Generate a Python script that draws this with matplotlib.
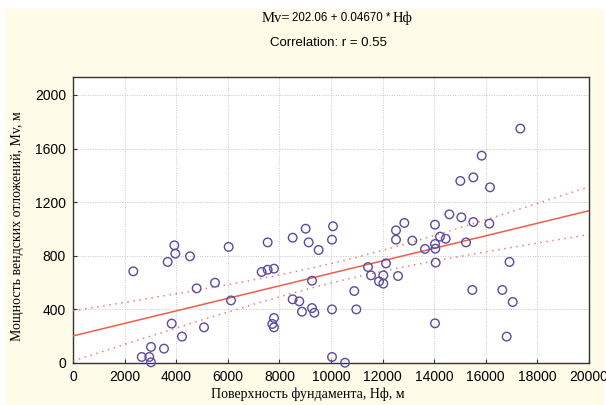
import numpy as np
import matplotlib
matplotlib.use("Agg")
import matplotlib.pyplot as plt
from matplotlib.patches import Rectangle

# Foundation surface depth, Hф (m)
hf = [2337, 2663, 2958, 3023, 3023, 3527, 3669, 3928, 3966, 3825,
      4225, 4535, 4793, 5504, 5078, 6034, 6124, 7312, 7545, 7790,
      7545, 7790, 7726, 7790, 8514, 9017, 9134, 9521, 8514, 8771,
      8876, 9264, 9264, 9354, 10078, 10039, 10039, 10039, 10543, 10903,
      10981, 11434, 11550, 11860, 12028, 12028, 12132, 12519, 12519, 12842,
      13152, 12597, 13643, 14031, 14031, 14044, 14057, 14031, 14225, 14445,
      17338, 15841, 15517, 15013, 16163, 14587, 15052, 15517, 16137, 15233,
      16919, 15478, 16640, 17043, 16808]
# Vendian deposits thickness, Mv (m)
mv = [684, 45, 45, 5, 120, 107, 754, 878, 816, 294,
      197, 796, 557, 599, 266, 866, 467, 679, 696, 704,
      900, 336, 291, 266, 935, 1002, 900, 843, 475, 460,
      383, 614, 410, 375, 1020, 920, 400, 45, 2, 537,
      400, 716, 654, 609, 654, 592, 743, 920, 990, 1045,
      913, 649, 851, 1032, 888, 853, 749, 296, 943, 927,
      1749, 1547, 1385, 1358, 1311, 1109, 1087, 1052, 1040, 900,
      754, 545, 545, 455, 197]

intercept = 202.06
slope = 0.04670
r_value = 0.55

x_ticks = list(range(0, 20001, 2000))
y_ticks = [0, 400, 800, 1200, 1600, 2000]

W, H = 606, 405
cream = "#fffbe9"
fig = plt.figure(figsize=(W / 100, H / 100), dpi=100)
fig.patch.set_facecolor("white")
fig.patches.append(Rectangle((5 / W, 0), 599 / W, 1 - 9 / H,
                             transform=fig.transFigure, facecolor=cream,
                             edgecolor="none", zorder=-10))

ax = fig.add_axes([73 / W, 1 - 363 / H, 516 / W, 286 / H])
ax.set_facecolor("white")

x = np.asarray(hf, dtype=float)
y = np.asarray(mv, dtype=float)

# regression line and 95% confidence band for the mean
xs = np.linspace(0, 20000, 200)
fit = intercept + slope * xs
n = len(x)
resid = y - (intercept + slope * x)
se = np.sqrt(np.sum(resid ** 2) / (n - 2))
sxx = np.sum((x - x.mean()) ** 2)
tval = 1.993
half = tval * se * np.sqrt(1 / n + (xs - x.mean()) ** 2 / sxx)

line_col = "#ec5f4a"
ax.plot(xs, fit, color=line_col, lw=1.1, zorder=3)
ax.plot(xs, fit + half, color=line_col, lw=1.1, ls=(0, (1, 3)), alpha=0.8, zorder=3)
ax.plot(xs, fit - half, color=line_col, lw=1.1, ls=(0, (1, 3)), alpha=0.8, zorder=3)

ax.scatter(x, y, s=38, facecolors="none", edgecolors="#5b4b9e", linewidths=1.0,
           zorder=4, clip_on=False)

ax.set_xlim(0, 20000)
ax.set_ylim(0, 2134)
ax.set_xticks(x_ticks)
ax.set_yticks(y_ticks)
ax.grid(True, color="#c8c8c8", ls=(0, (1, 1.5)), lw=0.7)
ax.set_axisbelow(True)
ax.tick_params(direction="in", length=3, width=0.8, colors="#333333",
               labelsize=10, labelcolor="black", pad=5)
for lab in ax.get_xticklabels() + ax.get_yticklabels():
    lab.set_family("Liberation Sans")
for sp in ax.spines.values():
    sp.set_color("#333333")
    sp.set_linewidth(1.0)

ax.set_xlabel("Поверхность фундамента, Hф, м", family="Liberation Serif",
              fontsize=10)
ax.xaxis.set_label_coords(0.455, -0.085)
ax.set_ylabel("Мощность вендских отложений, Mv, м", family="Liberation Serif",
              fontsize=10, va="center")
ax.yaxis.set_label_coords(-0.107, 0.48)

# equation header
yh = 1 - 18 / H
fig.text(262 / W, yh, "Mv=", family="Liberation Serif", fontsize=10.5,
         ha="left", va="center")
fig.text(292 / W, yh, "%.2f + %.5f *" % (intercept, slope),
         family="Liberation Sans", fontsize=8.3, ha="left", va="center")
fig.text(393 / W, yh, "Hф", family="Liberation Serif",
         fontsize=10.5, ha="left", va="center")
fig.text(328 / W, 1 - 43 / H, "Correlation: r = %.2f" % r_value,
         family="Liberation Sans", fontsize=9.5, ha="center", va="center")

fig.savefig("out.png", dpi=100, facecolor=fig.get_facecolor())
